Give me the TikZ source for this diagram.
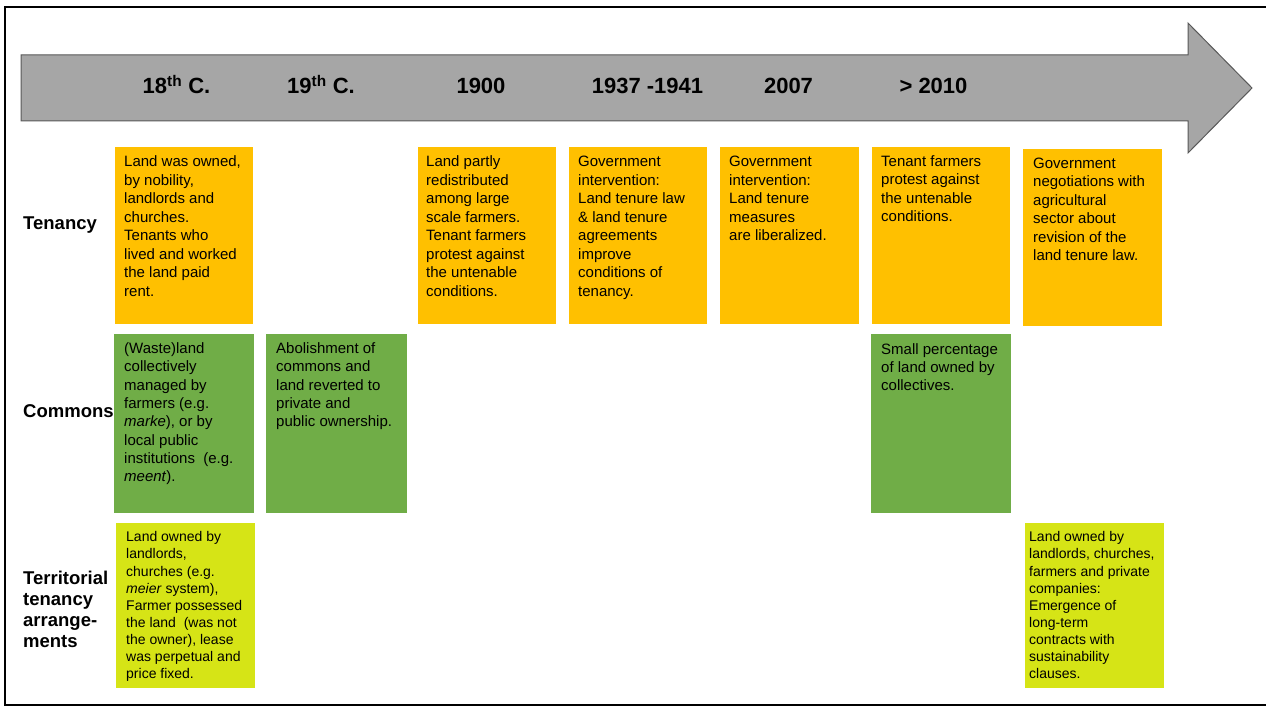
\documentclass[tikz,border=0pt]{standalone}
\usepackage{fontspec}
\setmainfont{Liberation Sans}
\definecolor{tenorange}{HTML}{FFC000}
\definecolor{comgreen}{HTML}{70AD47}
\definecolor{terlime}{HTML}{D6E416}
\definecolor{arrowfill}{HTML}{A6A6A6}
\definecolor{arrowline}{HTML}{595959}
\tikzset{
  cell/.style={rectangle, anchor=north west, inner sep=0pt, draw=none},
  tencell/.style={cell, fill=tenorange},
  comcell/.style={cell, fill=comgreen},
  tercell/.style={cell, fill=terlime},
  celltext/.style={anchor=north west, inner sep=0pt, align=left, text=black},
  tentext/.style={celltext, font=\fontsize{15}{18.5}\selectfont},
  comtext/.style={celltext, font=\fontsize{15}{18.3}\selectfont},
  tertext/.style={celltext, font=\fontsize{14}{17.1}\selectfont},
  period/.style={anchor=base, inner sep=0pt, font=\bfseries\fontsize{22}{26}\selectfont},
  rowlabel/.style={anchor=base west, inner sep=0pt, font=\bfseries\fontsize{18.5}{21.2}\selectfont},
}
\begin{document}
\begin{tikzpicture}[x=1pt,y=-1pt]
\useasboundingbox (0,0) rectangle (1266,706);
\fill[white] (0,0) rectangle (1266,706);
% frame
\draw[black, line width=2pt] (1267,7) -- (5,7) -- (5,705) -- (1267,705);
% timeline arrow
\draw[fill=arrowfill, draw=arrowline, line width=1pt]
  (21,55) -- (1188,55) -- (1188,23) -- (1252,88) -- (1188,153) -- (1188,121) -- (21,121) -- cycle;
\node[period] (p18) at (176.5,94) {18\textsuperscript{th} C.};
\node[period] (p19) at (321,94) {19\textsuperscript{th} C.};
\node[period] (p1900) at (481,94) {1900};
\node[period] (p1937) at (647.5,94) {1937 -1941};
\node[period] (p2007) at (788.5,94) {2007};
\node[period] (p2010) at (933.5,94) {> 2010};
% row labels
\node[rowlabel] (ltenancy) at (23,229.3) {Tenancy};
\node[rowlabel] (lcommons) at (23,417) {Commons};
\node[anchor=north west, inner sep=0pt, align=left, font=\bfseries\fontsize{18.5}{21.2}\selectfont] (lterritorial) at (23,569.2)
  {\strut Territorial\\tenancy\\arrange-\\ments};
% Tenancy row
\node[tencell, minimum width=138pt, minimum height=177pt] (t18) at (115,147) {};
\node[tentext] (t18txt) at ([shift={(9,6.75)}]t18.north west)
  {\strut Land was owned,\\by nobility,\\landlords and\\churches.\\Tenants who\\lived and worked\\the land paid\\rent.};
\node[tencell, minimum width=138pt, minimum height=177pt] (t1900) at (418,147) {};
\node[tentext] (t1900txt) at ([shift={(8,6.75)}]t1900.north west)
  {\strut Land partly\\redistributed\\among large\\scale farmers.\\Tenant farmers\\protest against\\the untenable\\conditions.};
\node[tencell, minimum width=138pt, minimum height=177pt] (t1937) at (569,147) {};
\node[tentext] (t1937txt) at ([shift={(9,6.75)}]t1937.north west)
  {\strut Government\\intervention:\\Land tenure law\\\& land tenure\\agreements\\improve\\conditions of\\tenancy.};
\node[tencell, minimum width=139pt, minimum height=177pt] (t2007) at (720,147) {};
\node[tentext] (t2007txt) at ([shift={(9,6.75)}]t2007.north west)
  {\strut Government\\intervention:\\Land tenure\\measures\\are liberalized.};
\node[tencell, minimum width=138pt, minimum height=177pt] (t2010) at (872,147) {};
\node[tentext] (t2010txt) at ([shift={(9,6.2)}]t2010.north west)
  {\strut Tenant farmers\\protest against\\the untenable\\conditions.};
\node[tencell, minimum width=139pt, minimum height=177pt] (tnext) at (1023,149) {};
\node[tentext] (tnexttxt) at ([shift={(10,6.2)}]tnext.north west)
  {\strut Government\\negotiations with\\agricultural\\sector about\\revision of the\\land tenure law.};
% Commons row
\node[comcell, minimum width=140pt, minimum height=179pt] (c18) at (114,334) {};
\node[comtext] (c18txt) at ([shift={(10,6.5)}]c18.north west)
  {\strut (Waste)land\\collectively\\managed by\\farmers (e.g.\\\textit{marke}), or by\\local public\\institutions\ \ (e.g.\\\textit{meent}).};
\node[comcell, minimum width=141pt, minimum height=179pt] (c19) at (266,334) {};
\node[comtext] (c19txt) at ([shift={(10,6.5)}]c19.north west)
  {\strut Abolishment of\\commons and\\land reverted to\\private and\\public ownership.};
\node[comcell, minimum width=140pt, minimum height=179pt] (c2010) at (871,334) {};
\node[comtext] (c2010txt) at ([shift={(10,7)}]c2010.north west)
  {\strut Small percentage\\of land owned by\\collectives.};
% Territorial row
\node[tercell, minimum width=139pt, minimum height=165pt] (r18) at (116,523) {};
\node[tertext] (r18txt) at ([shift={(10,6.7)}]r18.north west)
  {\strut Land owned by\\landlords,\\churches (e.g.\\\textit{meier} system),\\Farmer possessed\\the land\ \ (was not\\the owner), lease\\was perpetual and\\price fixed.};
\node[tercell, minimum width=139pt, minimum height=165pt] (rnext) at (1025,523) {};
\node[tertext] (rnexttxt) at ([shift={(4,6.7)}]rnext.north west)
  {\strut Land owned by\\landlords, churches,\\farmers and private\\companies:\\Emergence of\\long-term\\contracts with\\sustainability\\clauses.};
\end{tikzpicture}
\end{document}
